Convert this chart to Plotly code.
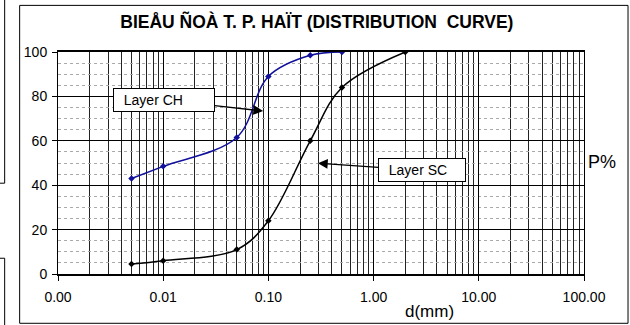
import plotly.graph_objects as go

# Data
d_ch = [0.005, 0.01, 0.05, 0.1, 0.25, 0.5]
p_ch = [43, 48.5, 61.5, 89, 98.5, 100]
d_sc = [0.005, 0.01, 0.05, 0.1, 0.25, 0.5, 2.0]
p_sc = [4.5, 6, 11, 24, 60, 84, 100]
x_tickvals = [0.001, 0.01, 0.1, 1, 10, 100]
x_ticktext = ["0.00", "0.01", "0.10", "1.00", "10.00", "100.00"]
title_text = "BIEÅU ÑOÀ T. P. HAÏT (DISTRIBUTION  CURVE)"

FONT = "Arial, Liberation Sans, sans-serif"

minor_x = [k * 10 ** e for e in range(-3, 2) for k in range(2, 10)]

fig = go.Figure()
fig.add_trace(go.Scatter(x=d_ch, y=p_ch, mode="lines+markers", name="Layer CH",
                         line=dict(color="#10109a", width=1.5, shape="spline", smoothing=1),
                         marker=dict(symbol="diamond", size=5, color="#10109a")))
fig.add_trace(go.Scatter(x=d_sc, y=p_sc, mode="lines+markers", name="Layer SC",
                         line=dict(color="black", width=1.5, shape="spline", smoothing=1),
                         marker=dict(symbol="diamond", size=5, color="black")))

fig.update_layout(
    width=630, height=325,
    margin=dict(l=58, r=46, t=52, b=51),
    paper_bgcolor="white", plot_bgcolor="white",
    showlegend=False,
    font=dict(family=FONT, color="black", size=14),
    title=dict(text="<b>" + title_text + "</b>", x=0.503, xanchor="center",
               y=0.933, yanchor="middle", font=dict(size=17.5, family=FONT)),
)

fig.update_xaxes(type="log", range=[-3, 2], tickvals=x_tickvals, ticktext=x_ticktext,
                 showgrid=True, gridcolor="black", gridwidth=1,
                 ticks="outside", ticklen=5, tickcolor="black",
                 showline=True, linecolor="black", linewidth=1.5, mirror=True,
                 ticklabelstandoff=4, tickfont=dict(size=14),
                 minor=dict(tickvals=minor_x, showgrid=True, gridcolor="#222", gridwidth=1, ticks=""),
                 zeroline=False)
fig.update_yaxes(range=[0, 100], tickvals=[0, 20, 40, 60, 80, 100],
                 showgrid=True, gridcolor="black", gridwidth=1,
                 ticks="outside", ticklen=5, tickcolor="black",
                 showline=True, linecolor="black", linewidth=1, mirror=True,
                 ticklabelstandoff=2, tickfont=dict(size=14),
                 minor=dict(dtick=5, showgrid=True, gridcolor="#aaa", griddash="dot", gridwidth=1, ticks=""),
                 zeroline=False)

# Callout annotations
fig.add_annotation(x=-1.05, y=73.4, xref="x", yref="y", text="&nbsp;&nbsp;Layer CH",
                   showarrow=True, arrowhead=2, arrowsize=1.5, arrowwidth=1.3, arrowcolor="black",
                   ax=-99, ay=-11, bgcolor="white", bordercolor="black", borderwidth=1,
                   borderpad=2, width=96, height=18, align="left",
                   font=dict(size=14, family=FONT))
fig.add_annotation(x=-0.529, y=49.9, xref="x", yref="y", text="&nbsp;&nbsp;Layer SC",
                   showarrow=True, arrowhead=2, arrowsize=1.5, arrowwidth=1.3, arrowcolor="black",
                   ax=104, ay=7, bgcolor="white", bordercolor="black", borderwidth=1,
                   borderpad=2, width=82, height=18, align="left",
                   font=dict(size=14, family=FONT))

# Axis titles
fig.add_annotation(x=0.707, y=-0.171, xref="paper", yref="paper", text="d(mm)",
                   showarrow=False, xanchor="center", yanchor="middle",
                   font=dict(size=17, family=FONT))
fig.add_annotation(x=1.003, y=0.503, xref="paper", yref="paper", text="P%",
                   showarrow=False, xanchor="left", yanchor="middle",
                   font=dict(size=18, family=FONT))

# Chart border and neighbouring frame fragments
fig.add_shape(type="rect", xref="paper", yref="paper",
              x0=-0.0729, x1=1.0837, y0=-0.222, y1=1.210,
              line=dict(color="black", width=1), layer="below")
fig.add_shape(type="path", xref="paper", yref="paper",
              path="M -0.12,1.24 L -0.1014,1.24 L -0.1014,0.409 L -0.12,0.409",
              line=dict(color="black", width=1))
fig.add_shape(type="path", xref="paper", yref="paper",
              path="M -0.12,0.071 L -0.1014,0.071 L -0.1014,-0.3",
              line=dict(color="black", width=1))

fig.write_html("out.html", config={"displayModeBar": False},
               post_script="document.body.style.margin='0';document.body.style.overflow='hidden';")
